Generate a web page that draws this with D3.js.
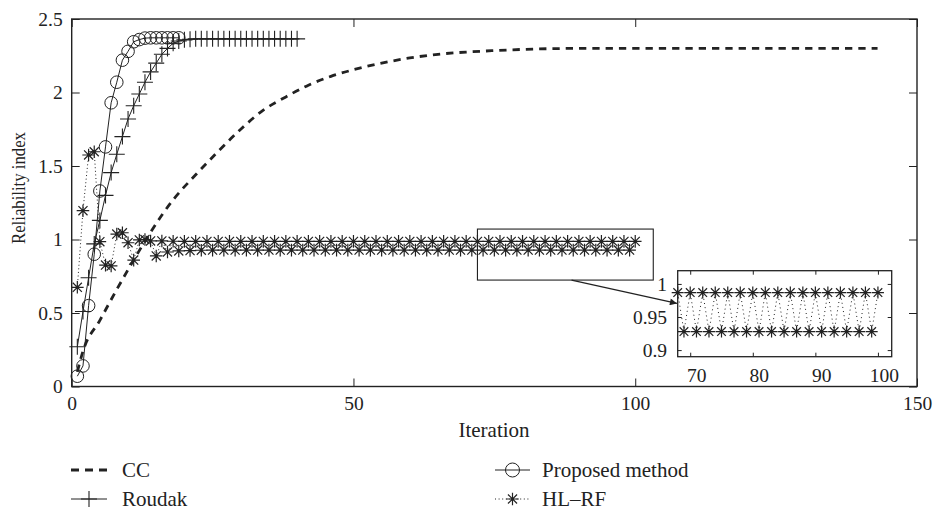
<!DOCTYPE html>
<html>
<head>
<meta charset="utf-8">
<script src="https://cdn.jsdelivr.net/npm/d3@7"></script>
<style>
  html, body { margin: 0; padding: 0; background: #fff; }
  svg { display: block; }
  svg text { font-family: 'Liberation Serif', 'DejaVu Serif', 'Times New Roman', serif !important; fill: #222; }
</style>
</head>
<body>
<svg id="chart" width="933" height="512"></svg>
<script>
// ---------------- data ----------------
const xTicks = [0, 50, 100, 150];
const yTicks = [0, 0.5, 1, 1.5, 2, 2.5];
const yTickLabels = ["0", "0.5", "1", "1.5", "2", "2.5"];
const insetXTicks = [70, 80, 90, 100];
const insetYTicks = [0.9, 0.95, 1];
const insetYTickLabels = ["0.9", "0.95", "1"];

// CC (dashed, no markers): iteration / value pairs
const ccIter = [1, 2, 5, 8, 11, 14, 18, 22, 26, 30, 34, 38, 42, 46, 50, 55, 60, 65, 70, 75, 80, 90, 100, 120, 143];
const ccVal  = [0.10, 0.24, 0.45, 0.66, 0.86, 1.05, 1.27, 1.44, 1.60, 1.75, 1.88, 1.97, 2.05, 2.11, 2.155, 2.20, 2.235, 2.26, 2.275, 2.285, 2.293, 2.30, 2.30, 2.30, 2.30];

// Proposed method (circles), iterations 1..19
const proposedVal = [0.07, 0.14, 0.55, 0.90, 1.33, 1.63, 1.93, 2.07, 2.22, 2.28, 2.345, 2.36, 2.37, 2.372, 2.372, 2.372, 2.372, 2.372, 2.372];

// Roudak (plus), iterations 1..40
const roudakVal = [0.27, 0.51, 0.74, 0.97, 1.13, 1.30, 1.455, 1.58, 1.70, 1.82,
                   1.91, 1.99, 2.07, 2.14, 2.20, 2.26, 2.30, 2.335, 2.35, 2.358,
                   2.362, 2.365, 2.365, 2.365, 2.365, 2.365, 2.365, 2.365, 2.365, 2.365,
                   2.365, 2.365, 2.365, 2.365, 2.365, 2.365, 2.365, 2.365, 2.365, 2.365];

// HL-RF (asterisks, dotted), iterations 1..100
const hlrfVal = [0.675, 1.196, 1.575, 1.597, 0.985, 0.826, 0.82, 1.037, 1.046, 0.978,
                 0.86, 0.997, 1.0, 0.99, 0.888, 0.99, 0.915, 0.988, 0.922, 0.987,
                 0.925, 0.987, 0.927, 0.987, 0.928, 0.987, 0.928, 0.987, 0.928, 0.987,
                 0.928, 0.987, 0.928, 0.987, 0.928, 0.987, 0.928, 0.987, 0.928, 0.987,
                 0.928, 0.987, 0.928, 0.987, 0.928, 0.987, 0.928, 0.987, 0.928, 0.987,
                 0.928, 0.987, 0.928, 0.987, 0.928, 0.987, 0.928, 0.987, 0.928, 0.987,
                 0.928, 0.987, 0.928, 0.987, 0.928, 0.987, 0.928, 0.987, 0.928, 0.987,
                 0.928, 0.987, 0.928, 0.987, 0.928, 0.987, 0.928, 0.987, 0.928, 0.987,
                 0.928, 0.987, 0.928, 0.987, 0.928, 0.987, 0.928, 0.987, 0.928, 0.987,
                 0.928, 0.987, 0.928, 0.987, 0.928, 0.987, 0.928, 0.987, 0.928, 0.987];

// zoom box (data coords of main plot) and arrow
const zoomBoxX = [72, 103.2];
const zoomBoxY = [0.724, 1.071];
const arrowFrom = [88.7, 0.724];
const arrowTo = [107.4, 0.565];

const legendLabels = ["CC", "Roudak", "Proposed method", "HL\u2013RF"];

// ---------------- drawing ----------------
const INK = "#222";
const FONT = "'Liberation Serif', 'DejaVu Serif', 'Times New Roman', serif";
const svg = d3.select("#chart");

const plot = {left: 71.7, right: 917, top: 19, bottom: 386.5};
const x = d3.scaleLinear().domain([0, 150]).range([plot.left, plot.right]);
const y = d3.scaleLinear().domain([0, 2.5]).range([plot.bottom, plot.top]);

const pairs = (vals, start) => vals.map((v, i) => [i + start, v]);
const ccData = ccIter.map((it, i) => [it, ccVal[i]]);
const propData = pairs(proposedVal, 1);
const roudakData = pairs(roudakVal, 1);
const hlrfData = pairs(hlrfVal, 1);

// marker helpers
function drawCircle(g, cx, cy, r) {
  g.append("circle").attr("cx", cx).attr("cy", cy).attr("r", r)
    .attr("fill", "none").attr("stroke", INK).attr("stroke-width", 1);
}
function drawPlus(g, cx, cy, h) {
  g.append("path").attr("d", `M${cx - h},${cy}H${cx + h}M${cx},${cy - h}V${cy + h}`)
    .attr("stroke", INK).attr("stroke-width", 1.1).attr("fill", "none");
}
function drawStar(g, cx, cy, h) {
  const d = h * 0.72;
  g.append("path").attr("d",
    `M${cx - h},${cy}H${cx + h}M${cx},${cy - h}V${cy + h}` +
    `M${cx - d},${cy - d}L${cx + d},${cy + d}M${cx - d},${cy + d}L${cx + d},${cy - d}`)
    .attr("stroke", INK).attr("stroke-width", 1.2).attr("fill", "none");
}
function styleText(sel, size) {
  sel.style("font-family", FONT).style("font-size", size).attr("fill", INK);
}

const defs = svg.append("defs");
defs.append("clipPath").attr("id", "mainClip").append("rect")
  .attr("x", plot.left).attr("y", plot.top)
  .attr("width", plot.right - plot.left).attr("height", plot.bottom - plot.top);
defs.append("marker").attr("id", "arrowHead")
  .attr("viewBox", "0 0 10 10").attr("refX", 10).attr("refY", 5)
  .attr("markerWidth", 9).attr("markerHeight", 7).attr("markerUnits", "userSpaceOnUse")
  .attr("orient", "auto")
  .append("path").attr("d", "M0,0L10,5L0,10Z").attr("fill", INK);

const lineMain = d3.line().x(d => x(d[0])).y(d => y(d[1]));

const gLines = svg.append("g").attr("clip-path", "url(#mainClip)");
gLines.append("path").datum(ccData)
  .attr("d", d3.line().x(d => x(d[0])).y(d => y(d[1])).curve(d3.curveMonotoneX))
  .attr("fill", "none").attr("stroke", INK).attr("stroke-width", 2.8)
  .attr("stroke-dasharray", "7.3,6");
gLines.append("path").datum(hlrfData).attr("d", lineMain)
  .attr("fill", "none").attr("stroke", INK).attr("stroke-width", 1)
  .attr("stroke-dasharray", "1,2.6");
gLines.append("path").datum(roudakData).attr("d", lineMain)
  .attr("fill", "none").attr("stroke", INK).attr("stroke-width", 1);
gLines.append("path").datum(propData).attr("d", lineMain)
  .attr("fill", "none").attr("stroke", INK).attr("stroke-width", 1);

const gMarks = svg.append("g");
hlrfData.forEach(d => drawStar(gMarks, x(d[0]), y(d[1]), 6.3));
roudakData.forEach(d => drawPlus(gMarks, x(d[0]), y(d[1]), 8));
propData.forEach(d => drawCircle(gMarks, x(d[0]), y(d[1]), 6.3));

// ---- axes (MATLAB-style box, inward ticks) ----
const tickFont = "19.5px";
const gx = svg.append("g").attr("transform", `translate(0,${plot.bottom})`)
  .call(d3.axisBottom(x).tickValues(xTicks).tickFormat(d3.format("d"))
    .tickSizeInner(-8).tickSizeOuter(0).tickPadding(9.7));
const gxTop = svg.append("g").attr("transform", `translate(0,${plot.top})`)
  .call(d3.axisTop(x).tickValues(xTicks).tickFormat("").tickSizeInner(-8).tickSizeOuter(0));
const gy = svg.append("g").attr("transform", `translate(${plot.left},0)`)
  .call(d3.axisLeft(y).tickValues(yTicks).tickFormat((d, i) => yTickLabels[i])
    .tickSizeInner(-8).tickSizeOuter(0).tickPadding(9));
const gyRight = svg.append("g").attr("transform", `translate(${plot.right},0)`)
  .call(d3.axisRight(y).tickValues(yTicks).tickFormat("").tickSizeInner(-8).tickSizeOuter(0));
[gx, gxTop, gy, gyRight].forEach(g => {
  g.attr("font-family", null).attr("font-size", null);
  g.select(".domain").remove();
  g.selectAll("line").attr("stroke", INK).attr("stroke-width", 1);
  styleText(g.selectAll("text"), tickFont);
});
svg.append("rect").attr("x", plot.left).attr("y", plot.top)
  .attr("width", plot.right - plot.left).attr("height", plot.bottom - plot.top)
  .attr("fill", "none").attr("stroke", INK).attr("stroke-width", 1.4);

// axis titles
styleText(svg.append("text").attr("x", 494).attr("y", 437).attr("text-anchor", "middle")
  .text("Iteration"), "21px");
styleText(svg.append("text").attr("transform", "translate(25,188) rotate(-90)")
  .attr("text-anchor", "middle")
  .attr("textLength", 112).attr("lengthAdjust", "spacingAndGlyphs")
  .text("Reliability index"), "19px");

// ---- zoom box + arrow ----
svg.append("rect")
  .attr("x", x(zoomBoxX[0])).attr("y", y(zoomBoxY[1]))
  .attr("width", x(zoomBoxX[1]) - x(zoomBoxX[0]))
  .attr("height", y(zoomBoxY[0]) - y(zoomBoxY[1]))
  .attr("fill", "none").attr("stroke", INK).attr("stroke-width", 1.1);
svg.append("line")
  .attr("x1", x(arrowFrom[0])).attr("y1", y(arrowFrom[1]))
  .attr("x2", x(arrowTo[0])).attr("y2", y(arrowTo[1]))
  .attr("stroke", INK).attr("stroke-width", 1.3).attr("marker-end", "url(#arrowHead)");

// ---- inset ----
const ins = {left: 677.7, right: 891.7, top: 270.7, bottom: 356.7};
const xi = d3.scaleLinear().domain([68, 102.2]).range([ins.left, ins.right]);
const yi = d3.scaleLinear().domain([0.89, 1.02]).range([ins.bottom, ins.top]);
svg.append("rect").attr("x", ins.left).attr("y", ins.top)
  .attr("width", ins.right - ins.left).attr("height", ins.bottom - ins.top)
  .attr("fill", "#fff");
defs.append("clipPath").attr("id", "insClip").append("rect")
  .attr("x", ins.left).attr("y", ins.top)
  .attr("width", ins.right - ins.left).attr("height", ins.bottom - ins.top);
const insData = hlrfData.filter(d => d[0] >= 66);
svg.append("path").datum(insData)
  .attr("clip-path", "url(#insClip)")
  .attr("d", d3.line().x(d => xi(d[0])).y(d => yi(d[1])))
  .attr("fill", "none").attr("stroke", INK).attr("stroke-width", 1)
  .attr("stroke-dasharray", "1,3.2");
const gIns = svg.append("g");
insData.filter(d => d[0] >= 68).forEach(d => drawStar(gIns, xi(d[0]), yi(d[1]), 6));

const gix = svg.append("g").attr("transform", `translate(0,${ins.bottom})`)
  .call(d3.axisBottom(xi).tickValues(insetXTicks).tickFormat(d3.format("d"))
    .tickSizeInner(-4).tickSizeOuter(0).tickPadding(11));
gix.selectAll("text").attr("dx", 6);
const gixTop = svg.append("g").attr("transform", `translate(0,${ins.top})`)
  .call(d3.axisTop(xi).tickValues(insetXTicks).tickFormat("").tickSizeInner(-4).tickSizeOuter(0));
const giy = svg.append("g").attr("transform", `translate(${ins.left},0)`)
  .call(d3.axisLeft(yi).tickValues(insetYTicks).tickFormat((d, i) => insetYTickLabels[i])
    .tickSizeInner(-4).tickSizeOuter(0).tickPadding(10.7));
const giyRight = svg.append("g").attr("transform", `translate(${ins.right},0)`)
  .call(d3.axisRight(yi).tickValues(insetYTicks).tickFormat("").tickSizeInner(-4).tickSizeOuter(0));
[gix, gixTop, giy, giyRight].forEach(g => {
  g.attr("font-family", null).attr("font-size", null);
  g.select(".domain").remove();
  g.selectAll("line").attr("stroke", INK).attr("stroke-width", 1);
  styleText(g.selectAll("text"), tickFont);
});
svg.append("rect").attr("x", ins.left).attr("y", ins.top)
  .attr("width", ins.right - ins.left).attr("height", ins.bottom - ins.top)
  .attr("fill", "none").attr("stroke", INK).attr("stroke-width", 1.3);

// ---- legend ----
const legendPos = [
  {sx: 71, ex: 107, tx: 122, cy: 470},
  {sx: 71, ex: 107, tx: 122, cy: 499},
  {sx: 495, ex: 530, tx: 542, cy: 470},
  {sx: 495, ex: 530, tx: 542, cy: 499}
];
const gLeg = svg.append("g");
legendLabels.forEach((lab, i) => {
  const p = legendPos[i];
  const ln = gLeg.append("line").attr("x1", p.sx).attr("x2", p.ex)
    .attr("y1", p.cy).attr("y2", p.cy).attr("stroke", INK);
  const mid = (p.sx + p.ex) / 2;
  if (i === 0) ln.attr("stroke-width", 2.8).attr("stroke-dasharray", "8,6");
  else if (i === 1) { ln.attr("stroke-width", 1); drawPlus(gLeg, mid, p.cy, 8); }
  else if (i === 2) { ln.attr("stroke-width", 1); drawCircle(gLeg, mid, p.cy, 7); }
  else { ln.attr("stroke-width", 1).attr("stroke-dasharray", "1,2.6"); drawStar(gLeg, mid, p.cy, 6.3); }
  styleText(gLeg.append("text").attr("x", p.tx).attr("y", p.cy + 7).text(lab), "21px");
});
</script>
</body>
</html>
